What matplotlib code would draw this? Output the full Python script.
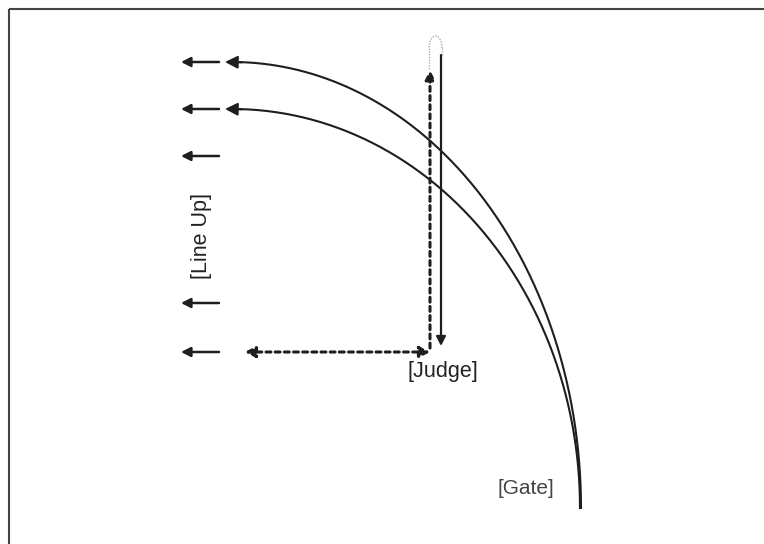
import matplotlib.pyplot as plt
import numpy as np

plt.rcParams['font.family'] = ['Liberation Sans', 'DejaVu Sans']

# diagram coordinates in pixels (x to the right, y downwards)
LINEUP_Y = [62, 109, 156, 303, 352]
LINEUP_X = (219, 181)

# two curved lanes: quarter ellipses, (start y, end x, end y)
LANE_START_X = 230
LANE_CX, LANE_CY = 232, 508
LANES = [(62, 581, 508), (109, 580, 508)]

JUDGE_X = 430
RETURN_X = 441
TOP_Y = 70
BOTTOM_Y = 348
HORIZ_Y = 352
HORIZ_X = (245, 430)

INK = '#1e1e1e'

fig = plt.figure(figsize=(7.64, 5.44), dpi=100)
ax = fig.add_axes([0, 0, 1, 1])
ax.set_xlim(0, 764)
ax.set_ylim(544, 0)
ax.axis('off')

# frame: only top and left edges visible
ax.plot([9, 764], [9, 9], color='#444444', lw=1.5, solid_capstyle='butt')
ax.plot([9, 9], [9, 544], color='#444444', lw=1.5, solid_capstyle='butt')

head = dict(arrowstyle='-|>,head_length=0.55,head_width=0.28', color=INK, lw=1.8,
            shrinkA=0, shrinkB=0)

# short line-up arrows
for y in LINEUP_Y:
    ax.annotate('', xy=(LINEUP_X[1], y), xytext=(LINEUP_X[0], y), arrowprops=head)

# curved lanes with arrowheads at the left end
for y0, x1, y1 in LANES:
    a = x1 - LANE_CX
    b = LANE_CY - y0
    t = np.linspace(0, np.pi / 2, 300)
    xs = LANE_CX + a * np.sin(t)
    ys = LANE_CY - b * np.cos(t)
    xs[0] = LANE_START_X + 6
    ax.plot(xs, ys, color=INK, lw=1.5)
    ax.annotate('', xy=(LANE_START_X - 5, y0), xytext=(LANE_START_X + 12, y0 + 0.3),
                arrowprops=dict(head, arrowstyle='-|>,head_length=0.75,head_width=0.38', lw=1.5))

# dotted vertical arrow (up) and dotted horizontal two-way arrow
dotted = dict(head, linestyle=(0, (1.6, 1.4)), lw=2.2)
ax.annotate('', xy=(JUDGE_X, TOP_Y), xytext=(JUDGE_X, BOTTOM_Y), arrowprops=dotted)
ax.annotate('', xy=(HORIZ_X[0], HORIZ_Y), xytext=(HORIZ_X[1], HORIZ_Y),
            arrowprops=dict(dotted, arrowstyle='<|-|>,head_length=0.6,head_width=0.32'))

# solid return arrow (down)
ax.annotate('', xy=(RETURN_X, BOTTOM_Y - 2), xytext=(RETURN_X, 55),
            arrowprops=dict(head, lw=1.6))

# faint u-turn hook at the top
t = np.linspace(0, np.pi, 60)
ax.plot(435.5 + 6.5 * np.cos(t), 48 - 12 * np.sin(t), color='#aaaaaa', lw=1.0, ls=(0, (1, 1)))
ax.plot([429, 429], [48, 70], color='#aaaaaa', lw=1.0, ls=(0, (1, 1)))
ax.plot([442, 442], [48, 56], color='#aaaaaa', lw=1.0, ls=(0, (1, 1)))

# labels
ax.text(202, 236, '[Line Up]', rotation=90, ha='center', va='center', fontsize=15.5, color='#222222')
ax.text(443, 371, '[Judge]', ha='center', va='center', fontsize=15.5, color='#222222')
ax.text(526, 488, '[Gate]', ha='center', va='center', fontsize=15, color='#444444')

fig.savefig('out.png', dpi=100)
